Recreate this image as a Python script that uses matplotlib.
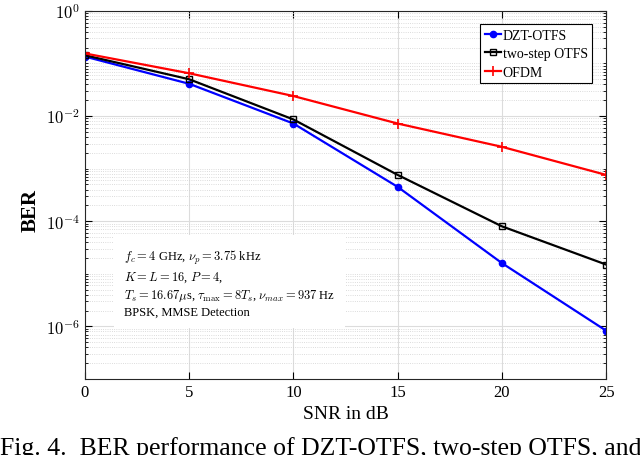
import numpy as np
import matplotlib
matplotlib.use("Agg")
import matplotlib.pyplot as plt
from matplotlib.ticker import LogLocator, FixedLocator, NullFormatter

plt.rcParams['font.family'] = ['Liberation Serif', 'DejaVu Serif']
plt.rcParams['mathtext.fontset'] = 'cm'

# BER vs SNR
snr = [0, 5, 10, 15, 20, 25]
ber_dzt = [0.135, 0.041, 7.2e-3, 4.5e-4, 1.6e-5, 8.3e-7]
ber_two_step = [0.143, 0.050, 8.6e-3, 7.6e-4, 8.0e-5, 1.5e-5]
ber_ofdm = [0.155, 0.065, 0.024, 7.2e-3, 2.6e-3, 7.6e-4]

fig = plt.figure(figsize=(6.4, 4.56), dpi=100)
ax = fig.add_axes([0.1328, 0.1667, 0.8142, 0.8073])

ax.semilogy(snr, ber_dzt, color='blue', lw=1.6, marker='o', ms=4.5,
            mfc='blue', label='DZT-OTFS')
ax.semilogy(snr, ber_two_step, color='black', lw=1.6, marker='s', ms=4.5,
            mfc='none', mew=1.0, label='two-step OTFS')
ax.semilogy(snr, ber_ofdm, color='red', lw=1.6, marker='+', ms=7,
            mew=1.2, label='OFDM')

ax.set_xlim(0, 25)
ax.set_ylim(1e-7, 1)
ax.set_xticks([0, 5, 10, 15, 20, 25])
ax.yaxis.set_major_locator(FixedLocator([1e-6, 1e-4, 1e-2, 1e0]))
ax.yaxis.set_minor_locator(LogLocator(base=10, subs=np.arange(1, 10), numticks=20))
ax.yaxis.set_minor_formatter(NullFormatter())
ax.set_yticklabels([r'$10^{-6}$', r'$10^{-4}$', r'$10^{-2}$', r'$10^{0}$'])

ax.grid(True, which='major', color='#dcdcdc', lw=0.8, ls='-')
ax.grid(True, which='minor', axis='y', color='#d0d0d0', lw=0.6, ls=':')
ax.tick_params(which='both', direction='in', top=True, right=True,
               labelsize=12)
ax.tick_params(which='major', length=5)
ax.tick_params(which='minor', length=2.5)
for s in ax.spines.values():
    s.set_linewidth(0.8)
    s.set_color('#262626')

ax.set_xlabel('SNR in dB', fontsize=14, labelpad=4)
ax.set_ylabel('BER', fontsize=15, fontweight='bold', labelpad=-2)
ax.yaxis.set_label_coords(-0.085, 0.46)

leg = ax.legend(loc='upper right', bbox_to_anchor=(0.973, 0.963), fontsize=10,
                fancybox=False, edgecolor='black', framealpha=1,
                handlelength=1.2, handletextpad=0.1, borderpad=0.3,
                labelspacing=0.4, borderaxespad=0)
leg.get_frame().set_linewidth(0.8)

info = ('$f_c = 4$ GHz, $\\nu_p = 3.75$ kHz\n'
        '$K = L = 16$, $P = 4$,\n'
        '$T_s = 16.67\\mu$s, $\\tau_{\\max} = 8T_s$, $\\nu_{max} = 937$ Hz\n'
        'BPSK, MMSE Detection')
ax.text(0.075, 0.357, info, transform=ax.transAxes, fontsize=9,
        va='top', ha='left', linespacing=1.33,
        bbox=dict(facecolor='white', edgecolor='none', pad=7))

fig.text(0.0, 1 - 437 / 456, 'Fig. 4.  BER performance of DZT-OTFS, two-step OTFS, and',
         fontsize=18.5, va='top', ha='left')

fig.savefig('out.png', dpi=100)
plt.close(fig)
